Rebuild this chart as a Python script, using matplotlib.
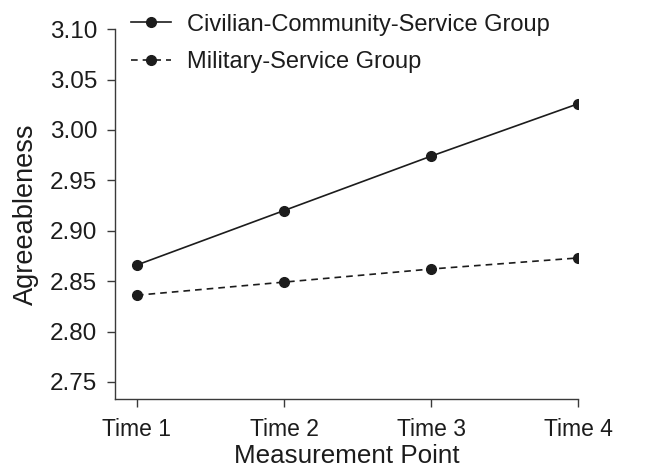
import numpy as np
import matplotlib.pyplot as plt

plt.rcParams['font.family'] = ['Liberation Sans', 'DejaVu Sans']

time_points = [1, 2, 3, 4]
time_labels = ['Time 1', 'Time 2', 'Time 3', 'Time 4']
civilian = [2.866, 2.920, 2.974, 3.026]
military = [2.836, 2.849, 2.862, 2.873]
y_ticks = [2.75, 2.80, 2.85, 2.90, 2.95, 3.00, 3.05, 3.10]

ink = '#1c1c1c'

fig = plt.figure(figsize=(6.49, 4.70), dpi=100)
ax = fig.add_axes([0.177, 0.151, 0.714, 0.787])

ax.plot(time_points, civilian, color=ink, lw=1.2, marker='o', ms=7,
        label='Civilian-Community-Service Group')
ax.plot(time_points, military, color=ink, lw=1.2, marker='o', ms=7,
        dashes=(4, 3), label='Military-Service Group')

ax.set_xlim(0.85, 4.0)
ax.set_ylim(2.733, 3.10)
ax.set_xticks(time_points)
ax.set_xticklabels(time_labels)
ax.set_yticks(y_ticks)
ax.set_yticklabels(['%.2f' % v for v in y_ticks])

for side in ['top', 'right']:
    ax.spines[side].set_visible(False)
for side in ['left', 'bottom']:
    ax.spines[side].set_color('#3a3a3a')
    ax.spines[side].set_linewidth(1.0)

ax.tick_params(direction='out', length=5.6, width=1.0, color='#3a3a3a',
               labelcolor=ink)
ax.tick_params(axis='x', pad=8, labelsize=16.5)
ax.tick_params(axis='y', pad=7, labelsize=17.5)

ax.set_xlabel('Measurement Point', fontsize=18.7, color=ink, labelpad=2.5)
ax.set_ylabel('Agreeableness', fontsize=19.5, color=ink, labelpad=8)

ax.legend(loc='upper left', bbox_to_anchor=(0.195, 0.981), bbox_transform=fig.transFigure,
          frameon=False, fontsize=17, handlelength=1.7, handletextpad=0.65,
          labelspacing=0.65, borderpad=0.2, borderaxespad=0, labelcolor=ink)

fig.savefig('out.png', dpi=100)
